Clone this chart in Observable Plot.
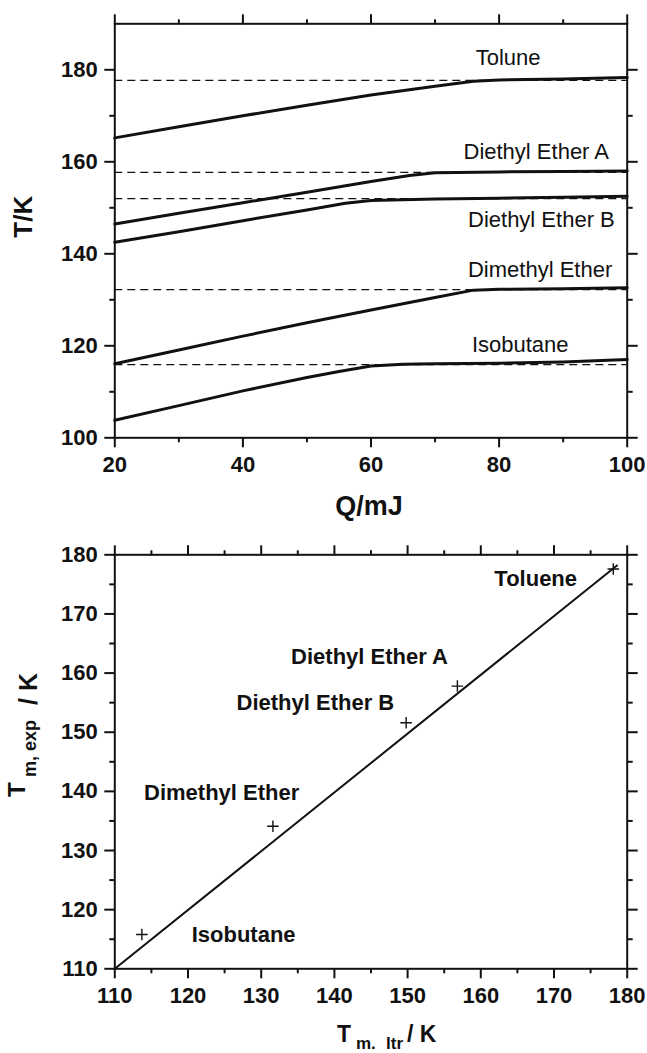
<!DOCTYPE html>
<html><head><meta charset="utf-8">
<script src="https://cdn.jsdelivr.net/npm/d3@7"></script>
<script src="https://cdn.jsdelivr.net/npm/@observablehq/plot@0.6"></script>
<style>
body{margin:0;background:#fff;}
#wrap{position:relative;width:647px;height:1053px;font-family:'Liberation Sans',Arial,sans-serif;color:#111;}
#wrap > svg{display:block;}
#wrap > svg g[aria-label$="tick label"]{font-size:22px;font-weight:bold;}
#overlay{position:absolute;left:0;top:0;pointer-events:none;}
</style></head><body><div id="wrap"></div>
<script>
// ---------- Top panel data (T/K vs Q/mJ) ----------
const topSeries = ["Toluene", "Diethyl Ether A", "Diethyl Ether B", "Dimethyl Ether", "Isobutane"];
const topLabels = ["Tolune", "Diethyl Ether A", "Diethyl Ether B", "Dimethyl Ether", "Isobutane"];
const tolueneQ = [20, 30, 40, 50, 60, 70, 76, 80, 90, 100];
const tolueneT = [165.2, 167.6, 170.0, 172.3, 174.5, 176.4, 177.5, 177.8, 178.0, 178.3];
const dietAQ = [20, 30, 40, 50, 60, 66, 70, 80, 90, 100];
const dietAT = [146.5, 148.8, 151.1, 153.4, 155.7, 157.0, 157.6, 157.8, 157.9, 158.0];
const dietBQ = [20, 30, 40, 50, 56, 60, 70, 80, 90, 100];
const dietBT = [142.5, 144.8, 147.2, 149.5, 151.0, 151.6, 151.9, 152.1, 152.3, 152.5];
const dimethQ = [20, 30, 40, 50, 60, 70, 76, 80, 90, 100];
const dimethT = [116.1, 119.1, 122.1, 125.0, 127.8, 130.5, 132.1, 132.3, 132.4, 132.6];
const isoQ = [20, 30, 40, 50, 55, 60, 65, 70, 80, 90, 100];
const isoT = [103.8, 107.0, 110.2, 113.1, 114.4, 115.6, 116.0, 116.1, 116.2, 116.5, 117.0];
const meltT = [177.7, 157.7, 152.0, 132.2, 115.9];
const labelQ = [81.4, 85.8, 86.6, 86.4, 83.3];
const labelT = [182.5, 162.2, 147.4, 136.5, 120.2];
const topXTicks = [20, 40, 60, 80, 100];
const topXMinor = [30, 50, 70, 90];
const topYTicks = [100, 120, 140, 160, 180];
const topYMinor = [110, 130, 150, 170];

// ---------- Bottom panel data (T_m,exp vs T_m,ltr) ----------
const botLabels = ["Toluene", "Diethyl Ether A", "Diethyl Ether B", "Dimethyl Ether", "Isobutane"];
const tmLtr = [178.1, 156.8, 149.8, 131.6, 113.7];
const tmExp = [177.6, 157.8, 151.6, 134.1, 115.8];
const fitX = [110, 178.6];
const fitY = [110, 178.2];
const botLabelX = [167.5, 144.8, 137.4, 124.6, 127.6];
const botLabelY = [175.9, 162.8, 155.0, 139.8, 115.7];
const botTicks = [110, 120, 130, 140, 150, 160, 170, 180];
const botMinor = [115, 125, 135, 145, 155, 165, 175];

// ---------- build tables ----------
const curveQ = [tolueneQ, dietAQ, dietBQ, dimethQ, isoQ];
const curveT = [tolueneT, dietAT, dietBT, dimethT, isoT];
const curves = topSeries.flatMap((s, k) => curveQ[k].map((q, i) => ({s, Q: q, T: curveT[k][i]})));
const labelsTop = topLabels.map((t, i) => ({t, Q: labelQ[i], T: labelT[i]}));
const points = botLabels.map((n, i) => ({n, x: tmLtr[i], y: tmExp[i]}));
const fit = fitX.map((x, i) => ({x, y: fitY[i]}));
const labelsBot = botLabels.map((t, i) => ({t, x: botLabelX[i], y: botLabelY[i]}));

const FONT = "'Liberation Sans', Arial, Helvetica, sans-serif";

function frameAxes(xT, xM, yT, yM) {
  const c = {label: null, strokeWidth: 2, fontSize: 22, fontWeight: "bold", fill: "#111"};
  const blank = () => "";
  return [
    Plot.axisX({...c, anchor: "bottom", ticks: xT, tickSize: 10, tickPadding: 9}),
    Plot.axisX({...c, anchor: "bottom", ticks: xM, tickSize: 5, tickFormat: blank}),
    Plot.axisX({...c, anchor: "top", ticks: xT, tickSize: 10, tickFormat: blank}),
    Plot.axisX({...c, anchor: "top", ticks: xM, tickSize: 5, tickFormat: blank}),
    Plot.axisY({...c, anchor: "left", ticks: yT, tickSize: 10, tickPadding: 7}),
    Plot.axisY({...c, anchor: "left", ticks: yM, tickSize: 5, tickFormat: blank}),
    Plot.axisY({...c, anchor: "right", ticks: yT, tickSize: 10, tickFormat: blank}),
    Plot.axisY({...c, anchor: "right", ticks: yM, tickSize: 5, tickFormat: blank}),
    Plot.frame({stroke: "#111", strokeWidth: 2})
  ];
}

const topChart = Plot.plot({
  width: 647, height: 530,
  marginLeft: 114.3, marginRight: 20.3, marginTop: 23.3, marginBottom: 92.7,
  style: {fontFamily: FONT, background: "white", color: "#111", overflow: "visible"},
  x: {domain: [20, 100], axis: null},
  y: {domain: [100, 190], axis: null},
  marks: [
    Plot.ruleY(meltT, {stroke: "#111", strokeWidth: 1.3, strokeDasharray: "8,5"}),
    Plot.line(curves, {x: "Q", y: "T", z: "s", stroke: "#111", strokeWidth: 3}),
    Plot.text(labelsTop, {x: "Q", y: "T", text: "t", fontSize: 22, fill: "#111"}),
    ...frameAxes(topXTicks, topXMinor, topYTicks, topYMinor)
  ]
});

const bottomChart = Plot.plot({
  width: 647, height: 523,
  marginLeft: 114.3, marginRight: 20.3, marginTop: 24.3, marginBottom: 84.7,
  style: {fontFamily: FONT, background: "white", color: "#111", overflow: "visible"},
  x: {domain: [110, 180], axis: null},
  y: {domain: [110, 180], axis: null},
  marks: [
    Plot.line(fit, {x: "x", y: "y", stroke: "#111", strokeWidth: 2}),
    Plot.dot(points, {x: "x", y: "y", symbol: "plus", r: 3.8, stroke: "#111", strokeWidth: 1.4}),
    Plot.text(labelsBot, {x: "x", y: "y", text: "t", fontSize: 22, fontWeight: "bold", fill: "#111"}),
    ...frameAxes(botTicks, botMinor, botTicks, botMinor)
  ]
});

const wrap = document.getElementById("wrap");
wrap.appendChild(topChart);
wrap.appendChild(bottomChart);

// ---------- axis titles (overlay) ----------
const ov = d3.select(wrap).append("svg").attr("id", "overlay")
  .attr("width", 647).attr("height", 1053)
  .style("font-family", FONT).attr("fill", "#111").attr("font-weight", "bold");

ov.append("text").attr("transform", "translate(31.5,216.7) rotate(-90)")
  .attr("text-anchor", "middle").attr("font-size", 26).text("T/K");

ov.append("text").attr("x", 369).attr("y", 514.5)
  .attr("text-anchor", "middle").attr("font-size", 27).text("Q/mJ");

// y title bottom: T_{m, exp} / K (rotated)
const yt = ov.append("text").attr("transform", "rotate(-90)");
yt.append("tspan").attr("x", -797).attr("y", 25).attr("font-size", 24).text("T");
yt.append("tspan").attr("x", -777).attr("y", 36).attr("font-size", 18).text("m, exp");
yt.append("tspan").attr("x", -705).attr("y", 37).attr("font-size", 25).text("/ K");

// x title bottom: T_{m. ltr}/ K
const xt = ov.append("text");
xt.append("tspan").attr("x", 337).attr("y", 1042).attr("font-size", 23).text("T");
xt.append("tspan").attr("x", 356).attr("y", 1049).attr("font-size", 17).text("m.");
xt.append("tspan").attr("x", 386).attr("y", 1049).attr("font-size", 17).text("ltr");
xt.append("tspan").attr("x", 407).attr("y", 1042).attr("font-size", 23).text("/ K");
</script></body></html>
